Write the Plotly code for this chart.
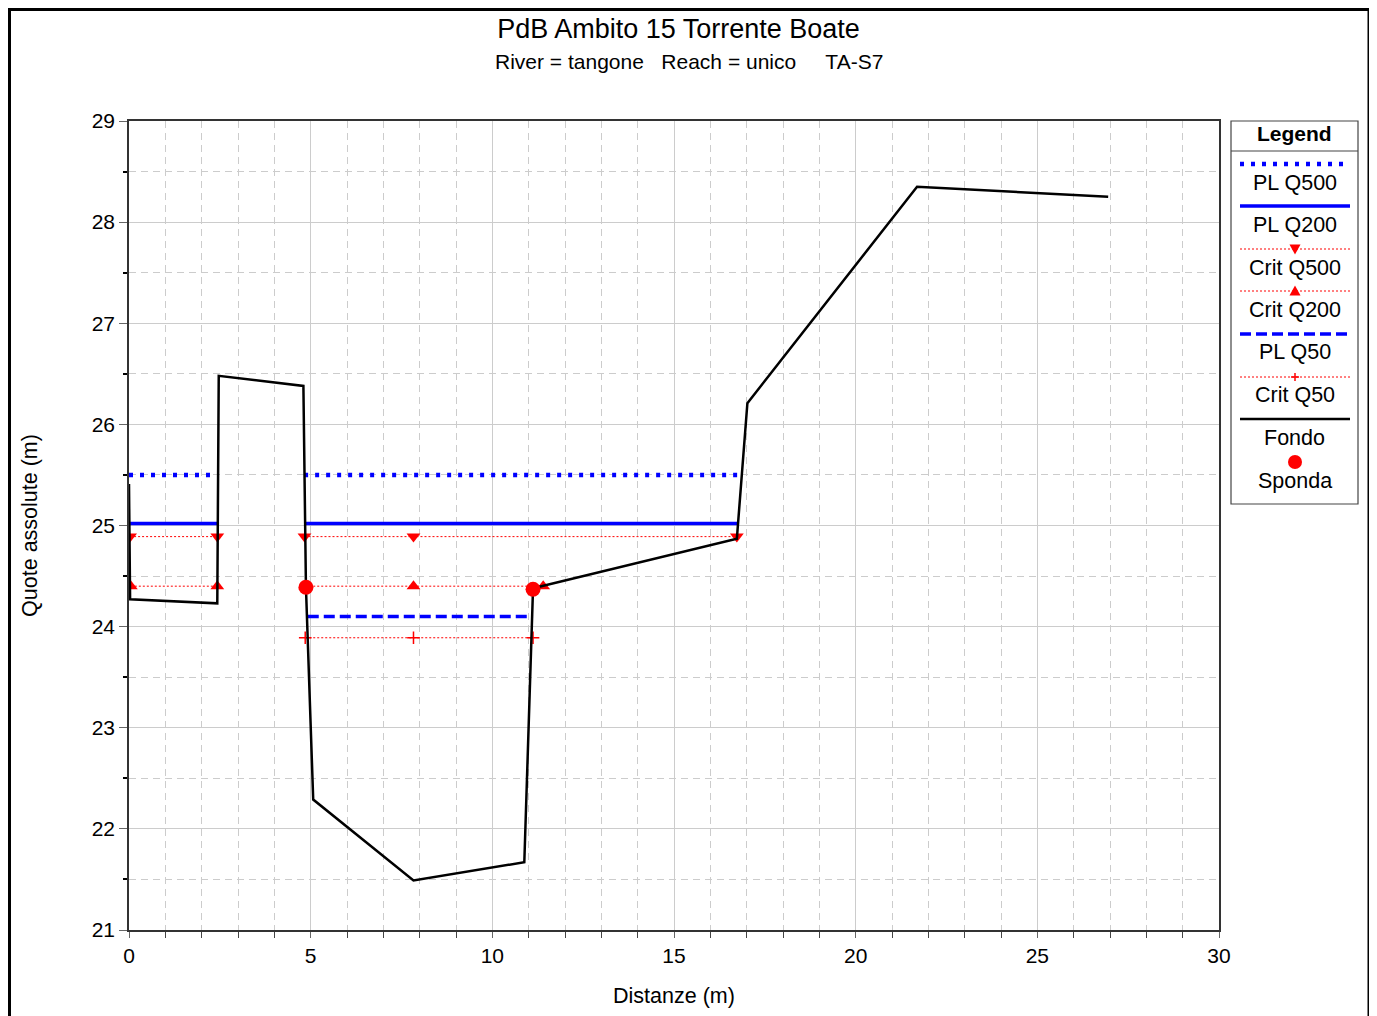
import plotly.graph_objects as go

# ---------------- data ----------------
fondo_x = [0.0, 0.03, 2.43, 2.47, 4.80, 4.87, 5.07, 7.83, 10.88, 11.12, 16.73, 17.02, 21.69, 26.95]
fondo_y = [25.41, 24.27, 24.23, 26.48, 26.38, 24.39, 22.29, 21.49, 21.67, 24.38, 24.87, 26.21, 28.35, 28.25]

pl500_x = [0.0, 2.43, None, 4.82, 16.87]
pl500_y = [25.50, 25.50, None, 25.50, 25.50]

pl200_x = [0.03, 2.46, None, 4.86, 16.76]
pl200_y = [25.02, 25.02, None, 25.02, 25.02]

crit500_x = [0.03, 2.43, None, 4.83, 7.83, 16.73]
crit500_y = [24.89, 24.89, None, 24.89, 24.89, 24.89]

crit200_x = [0.05, 2.43, None, 4.85, 7.83, 11.40]
crit200_y = [24.40, 24.40, None, 24.40, 24.40, 24.40]

pl50_x = [4.92, 11.12]
pl50_y = [24.10, 24.10]

crit50_x = [4.85, 7.83, 11.12]
crit50_y = [23.89, 23.89, 23.89]

sponda_x = [4.87, 11.12]
sponda_y = [24.39, 24.37]

legend_labels = ["PL Q500", "PL Q200", "Crit Q500", "Crit Q200", "PL Q50", "Crit Q50", "Fondo", "Sponda"]

title_text = "PdB Ambito 15 Torrente Boate"
subtitle_text = "River = tangone\u00a0\u00a0\u00a0Reach = unico\u00a0\u00a0\u00a0\u00a0\u00a0TA-S7"

# ---------------- layout helpers ----------------
OFF = 8                      # page body offset
W, H = 1377 - OFF, 1016 - OFF
PL_, PT_, PR_, PB_ = 129, 121, 1219, 930   # plot area in screen pixels
PW, PH = PR_ - PL_, PB_ - PT_
L, T = PL_ - OFF, PT_ - OFF
R, B = W - (PR_ - OFF), H - (PB_ - OFF)
FONT = "Liberation Sans, Arial, sans-serif"
BLUE = "#0000ff"
RED = "#ff0000"


def px(x):
    return (x - PL_) / PW


def py(y):
    return (PB_ - y) / PH


fig = go.Figure()

fig.add_trace(go.Scatter(x=pl500_x, y=pl500_y, mode="lines", name="PL Q500",
                         line=dict(color=BLUE, width=4.5, dash="4px,7px"), connectgaps=False))
fig.add_trace(go.Scatter(x=pl200_x, y=pl200_y, mode="lines", name="PL Q200",
                         line=dict(color=BLUE, width=3.5), connectgaps=False))
fig.add_trace(go.Scatter(x=crit500_x, y=crit500_y, mode="lines+markers", name="Crit Q500",
                         line=dict(color=RED, width=1, dash="2px,2px"),
                         marker=dict(symbol="triangle-down", size=12, color=RED), connectgaps=False))
fig.add_trace(go.Scatter(x=crit200_x, y=crit200_y, mode="lines+markers", name="Crit Q200",
                         line=dict(color=RED, width=1, dash="2px,2px"),
                         marker=dict(symbol="triangle-up", size=12, color=RED), connectgaps=False))
fig.add_trace(go.Scatter(x=pl50_x, y=pl50_y, mode="lines", name="PL Q50",
                         line=dict(color=BLUE, width=3.5, dash="11px,5px")))
fig.add_trace(go.Scatter(x=crit50_x, y=crit50_y, mode="lines+markers", name="Crit Q50",
                         line=dict(color=RED, width=1, dash="2px,2px"),
                         marker=dict(symbol="cross-thin", size=9, color=RED,
                                     line=dict(color=RED, width=1.5))))
fig.add_trace(go.Scatter(x=fondo_x, y=fondo_y, mode="lines", name="Fondo",
                         line=dict(color="black", width=2.5)))
fig.add_trace(go.Scatter(x=sponda_x, y=sponda_y, mode="markers", name="Sponda",
                         marker=dict(symbol="circle", size=15, color=RED)))

shapes = []
annotations = []

# outer frame
shapes.append(dict(type="rect", xref="paper", yref="paper",
                   x0=px(9.5), x1=px(1369), y0=py(1040), y1=py(9.5),
                   line=dict(color="black", width=3), layer="above"))

# legend box
lx0, lx1, ly0, ly1 = 1231, 1358, 121, 504
shapes.append(dict(type="rect", xref="paper", yref="paper",
                   x0=px(lx0), x1=px(lx1), y0=py(ly1), y1=py(ly0),
                   line=dict(color="#444444", width=1.2), fillcolor="white", layer="above"))
shapes.append(dict(type="line", xref="paper", yref="paper",
                   x0=px(lx0), x1=px(lx1), y0=py(151), y1=py(151),
                   line=dict(color="#444444", width=1.2), layer="above"))
annotations.append(dict(text="<b>Legend</b>", xref="paper", yref="paper",
                        x=px((lx0 + lx1) / 2), y=py(134), showarrow=False,
                        xanchor="center", yanchor="middle",
                        font=dict(family=FONT, size=21, color="black")))

sx0, sx1 = 1240, 1350
cx = (lx0 + lx1) / 2 + 0.5
sample_y = [164, 206, 249, 291, 334, 377, 419, 462]
text_y = [183, 225, 268, 310, 352, 395, 438, 481]
sample_styles = [
    dict(color=BLUE, width=4.5, dash="4px,7px"),
    dict(color=BLUE, width=3.5),
    dict(color=RED, width=1, dash="2px,2px"),
    dict(color=RED, width=1, dash="2px,2px"),
    dict(color=BLUE, width=3.5, dash="11px,5px"),
    dict(color=RED, width=1, dash="2px,2px"),
    dict(color="black", width=2.5),
    None,
]
for i, lab in enumerate(legend_labels):
    yy = sample_y[i]
    st = sample_styles[i]
    if st is not None:
        shapes.append(dict(type="line", xref="paper", yref="paper",
                           x0=px(sx0), x1=px(sx1), y0=py(yy), y1=py(yy),
                           line=st, layer="above"))
    annotations.append(dict(text=lab, xref="paper", yref="paper",
                            x=px(cx), y=py(text_y[i]), showarrow=False,
                            xanchor="center", yanchor="middle",
                            font=dict(family=FONT, size=21.5, color="black")))

# legend markers
h = 5.5
y0 = sample_y[2]
shapes.append(dict(type="path", xref="paper", yref="paper", layer="above",
                   path=f"M {px(cx-h)} {py(y0-h+1)} L {px(cx+h)} {py(y0-h+1)} L {px(cx)} {py(y0+h)} Z",
                   fillcolor=RED, line=dict(color=RED, width=0)))
y0 = sample_y[3]
shapes.append(dict(type="path", xref="paper", yref="paper", layer="above",
                   path=f"M {px(cx-h)} {py(y0+h-1)} L {px(cx+h)} {py(y0+h-1)} L {px(cx)} {py(y0-h)} Z",
                   fillcolor=RED, line=dict(color=RED, width=0)))
y0 = sample_y[5]
shapes.append(dict(type="line", xref="paper", yref="paper", layer="above",
                   x0=px(cx-4), x1=px(cx+4), y0=py(y0), y1=py(y0), line=dict(color=RED, width=1.5)))
shapes.append(dict(type="line", xref="paper", yref="paper", layer="above",
                   x0=px(cx), x1=px(cx), y0=py(y0-4), y1=py(y0+4), line=dict(color=RED, width=1.5)))
y0 = sample_y[7]
shapes.append(dict(type="circle", xref="paper", yref="paper", layer="above",
                   x0=px(cx-7), x1=px(cx+7), y0=py(y0+7), y1=py(y0-7),
                   fillcolor=RED, line=dict(color=RED, width=0)))

# subtitle
annotations.append(dict(text=subtitle_text, xref="paper", yref="paper",
                        x=px(689), y=py(61), showarrow=False,
                        xanchor="center", yanchor="middle",
                        font=dict(family=FONT, size=21, color="black")))

GRID = "#cccccc"
fig.update_layout(
    width=W, height=H,
    margin=dict(l=L, r=R, t=T, b=B, autoexpand=False),
    paper_bgcolor="white", plot_bgcolor="white",
    showlegend=False,
    font=dict(family=FONT, size=21, color="black"),
    title=dict(text=title_text, x=(678.5 - OFF) / W, xanchor="center", xref="container",
               y=1 - (29 - OFF) / H, yanchor="middle", yref="container",
               font=dict(family=FONT, size=27, color="black")),
    shapes=shapes,
    annotations=annotations,
    xaxis=dict(range=[0, 30], dtick=5, tick0=0, showgrid=True, gridcolor=GRID, gridwidth=1,
               zeroline=False, showline=True, linecolor="#333333", linewidth=1.5, mirror=True,
               ticks="outside", ticklen=6, tickcolor="#666666", tickwidth=1,
               tickfont=dict(family=FONT, size=21),
               minor=dict(dtick=1, showgrid=True, gridcolor=GRID, griddash="7px,5px",
                          ticks="outside", ticklen=6, tickcolor="#444444"),
               title=dict(text="Distanze (m)", standoff=22, font=dict(family=FONT, size=21.5)),
               automargin=True),
    yaxis=dict(range=[21, 29], dtick=1, tick0=21, showgrid=True, gridcolor=GRID, gridwidth=1,
               zeroline=False, showline=True, linecolor="#333333", linewidth=1.5, mirror=True,
               ticks="outside", ticklen=8, tickcolor="#666666", tickwidth=1,
               tickfont=dict(family=FONT, size=21),
               minor=dict(dtick=0.5, showgrid=True, gridcolor=GRID, griddash="7px,5px",
                          ticks="outside", ticklen=4, tickcolor="black", tickwidth=1.5),
               title=dict(text="Quote assolute (m)", standoff=48, font=dict(family=FONT, size=21.5)),
               automargin=True),
)

fig.write_html("out.html")
